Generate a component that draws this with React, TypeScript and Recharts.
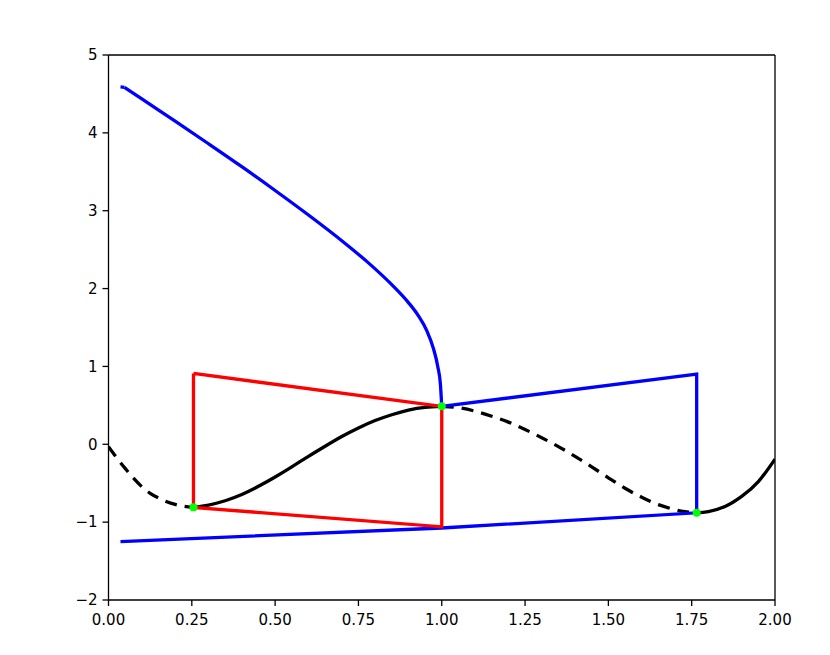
import React from 'react';
import { ComposedChart, Line, XAxis, YAxis, ReferenceLine } from 'recharts';

const xTicks = [0, 0.25, 0.5, 0.75, 1.0, 1.25, 1.5, 1.75, 2.0];
const yTicks = [-2, -1, 0, 1, 2, 3, 4, 5];

// black curve, dashed part on the left
const blackDashLeft = [
  { x: 0.0, y: -0.03 }, { x: 0.025, y: -0.175 }, { x: 0.05, y: -0.31 }, { x: 0.075, y: -0.435 },
  { x: 0.1, y: -0.545 }, { x: 0.125, y: -0.63 }, { x: 0.15, y: -0.69 }, { x: 0.175, y: -0.738 },
  { x: 0.2, y: -0.772 }, { x: 0.225, y: -0.795 }, { x: 0.255, y: -0.81 },
];
// black curve, solid rising part
const blackSolidMid = [
  { x: 0.255, y: -0.81 }, { x: 0.3, y: -0.78 }, { x: 0.35, y: -0.725 }, { x: 0.4, y: -0.645 },
  { x: 0.45, y: -0.54 }, { x: 0.5, y: -0.42 }, { x: 0.55, y: -0.29 }, { x: 0.6, y: -0.155 },
  { x: 0.65, y: -0.025 }, { x: 0.7, y: 0.1 }, { x: 0.75, y: 0.21 }, { x: 0.8, y: 0.305 },
  { x: 0.85, y: 0.38 }, { x: 0.9, y: 0.44 }, { x: 0.95, y: 0.475 }, { x: 1.0, y: 0.487 },
];
// black curve, dashed falling part
const blackDashRight = [
  { x: 1.0, y: 0.487 }, { x: 1.05, y: 0.47 }, { x: 1.1, y: 0.425 }, { x: 1.15, y: 0.36 },
  { x: 1.2, y: 0.285 }, { x: 1.25, y: 0.19 }, { x: 1.3, y: 0.085 }, { x: 1.35, y: -0.03 },
  { x: 1.4, y: -0.155 }, { x: 1.45, y: -0.29 }, { x: 1.5, y: -0.43 }, { x: 1.55, y: -0.565 },
  { x: 1.6, y: -0.68 }, { x: 1.65, y: -0.775 }, { x: 1.7, y: -0.84 }, { x: 1.73, y: -0.865 },
  { x: 1.765, y: -0.88 },
];
// black curve, solid right end
const blackSolidRight = [
  { x: 1.765, y: -0.88 }, { x: 1.8, y: -0.864 }, { x: 1.85, y: -0.8 }, { x: 1.9, y: -0.67 },
  { x: 1.95, y: -0.48 }, { x: 2.0, y: -0.19 },
];

// blue start hook
const blueHook = [
  { x: 0.036, y: 4.59 }, { x: 0.048, y: 4.585 },
];
// blue descending curve
const blueCurve = [
  { x: 0.048, y: 4.585 }, { x: 0.1, y: 4.435 }, { x: 0.2, y: 4.15 }, { x: 0.3, y: 3.86 },
  { x: 0.4, y: 3.565 }, { x: 0.5, y: 3.26 }, { x: 0.6, y: 2.945 }, { x: 0.7, y: 2.615 },
  { x: 0.78, y: 2.33 }, { x: 0.85, y: 2.05 }, { x: 0.9, y: 1.82 }, { x: 0.93, y: 1.65 },
  { x: 0.955, y: 1.46 }, { x: 0.975, y: 1.23 }, { x: 0.988, y: 1.0 }, { x: 0.996, y: 0.77 },
  { x: 1.0, y: 0.487 },
];
// blue polygon path
const blueLoop = [
  { x: 1.0, y: 0.487 }, { x: 1.765, y: 0.9 }, { x: 1.765, y: -0.88 },
  { x: 1.0, y: -1.075 }, { x: 0.036, y: -1.25 },
];
// red polygon path
const redLoop = [
  { x: 0.255, y: 0.91 }, { x: 1.0, y: 0.487 }, { x: 1.0, y: -1.06 },
  { x: 0.255, y: -0.81 }, { x: 0.255, y: 0.91 },
];
// green points
const greenPoints = [
  { x: 0.255, y: -0.81 }, { x: 1.0, y: 0.487 }, { x: 1.765, y: -0.88 },
];

const fmtX = (v: number) => v.toFixed(2);
const fmtY = (v: number) => (v < 0 ? '\u2212' + Math.abs(v) : String(v));
const tickStyle = { fill: '#000', fontSize: 15, fontFamily: 'DejaVu Sans' };

export default function App() {
  return (
    <div style={{ position: 'absolute', left: 0, top: 0, background: '#fff' }}>
      <ComposedChart width={830} height={655} margin={{ top: 55, right: 55, bottom: 25, left: 48.5 }}>
        <XAxis
          type="number"
          dataKey="x"
          domain={[0, 2]}
          ticks={xTicks}
          tickFormatter={fmtX}
          allowDataOverflow
          height={30}
          tickSize={6}
          tickMargin={8}
          stroke="#000"
          axisLine={{ stroke: '#000', strokeWidth: 1.3 }}
          tickLine={{ stroke: '#000', strokeWidth: 1.3 }}
          tick={tickStyle}
        />
        <YAxis
          type="number"
          dataKey="y"
          domain={[-2, 5]}
          ticks={yTicks}
          tickFormatter={fmtY}
          allowDataOverflow
          width={60}
          tickSize={6}
          tickMargin={5}
          stroke="#000"
          axisLine={{ stroke: '#000', strokeWidth: 1.3 }}
          tickLine={{ stroke: '#000', strokeWidth: 1.3 }}
          tick={tickStyle}
        />
        <ReferenceLine y={5} stroke="#000" strokeWidth={1.3} />
        <ReferenceLine x={2} stroke="#000" strokeWidth={1.3} />
        <Line data={blackDashLeft} dataKey="y" type="natural" stroke="#000" strokeWidth={3.3} strokeDasharray="12 8" dot={false} isAnimationActive={false} />
        <Line data={blackSolidMid} dataKey="y" type="natural" stroke="#000" strokeWidth={3.3} dot={false} isAnimationActive={false} />
        <Line data={blackDashRight} dataKey="y" type="natural" stroke="#000" strokeWidth={3.3} strokeDasharray="12 8" dot={false} isAnimationActive={false} />
        <Line data={blackSolidRight} dataKey="y" type="natural" stroke="#000" strokeWidth={3.3} dot={false} isAnimationActive={false} />
        <Line data={blueHook} dataKey="y" type="linear" stroke="#0000ff" strokeWidth={3.3} dot={false} isAnimationActive={false} />
        <Line data={blueCurve} dataKey="y" type="monotone" stroke="#0000ff" strokeWidth={3.3} dot={false} isAnimationActive={false} />
        <Line data={blueLoop} dataKey="y" type="linear" stroke="#0000ff" strokeWidth={3.3} dot={false} isAnimationActive={false} />
        <Line data={redLoop} dataKey="y" type="linear" stroke="#ff0000" strokeWidth={3.3} dot={false} isAnimationActive={false} />
        <Line data={greenPoints} dataKey="y" stroke="none" dot={{ r: 4, fill: '#00ff00', stroke: 'none' }} activeDot={false} isAnimationActive={false} />
      </ComposedChart>
    </div>
  );
}
